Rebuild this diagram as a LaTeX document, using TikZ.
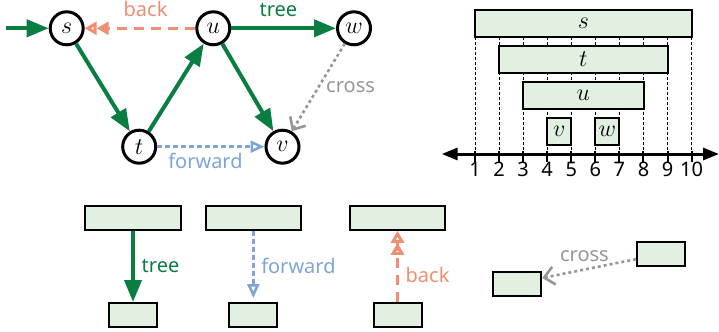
\documentclass[tikz,border=0pt]{standalone}
\usepackage{fontspec}
\setmainfont{Noto Sans}
\usetikzlibrary{arrows.meta, positioning}

\definecolor{treegreen}{RGB}{10,125,65}
\definecolor{backred}{RGB}{238,142,115}
\definecolor{forwardblue}{RGB}{125,165,215}
\definecolor{crossgray}{RGB}{150,150,150}
\definecolor{boxgreen}{RGB}{225,240,224}

\begin{document}
\begin{tikzpicture}[
    x=0.5pt, y=-0.5pt,
    node distance=35.6pt,
    vertex/.style={draw, circle, line width=1.5pt, minimum size=16.5pt, inner sep=0pt, font=\fontsize{12}{14}\selectfont},
    interval/.style={draw, rectangle, line width=1pt, fill=boxgreen, minimum height=13.3pt, inner sep=0pt, font=\fontsize{12}{14}\selectfont},
    bigbox/.style={draw, rectangle, line width=1pt, fill=boxgreen, minimum width=47.8pt, minimum height=12pt, inner sep=0pt},
    smallbox/.style={bigbox, minimum width=24pt},
    treeedge/.style={-{Triangle[length=11pt, width=8.5pt]}, line width=2pt, treegreen},
    backedge/.style={-{Triangle[open, length=6pt, width=6.5pt, sep=0pt]Triangle[open, length=6pt, width=6.5pt]}, line width=1.5pt, backred, dash pattern=on 5pt off 3.5pt},
    forwardedge/.style={-{Triangle[open, length=7pt, width=6pt]}, line width=1.3pt, forwardblue, dash pattern=on 2.5pt off 1.5pt},
    crossedge/.style={-{Straight Barb[length=5pt, width=9pt]}, line width=1.3pt, crossgray, dash pattern=on 1.5pt off 1.5pt},
    edgelabel/.style={font=\fontsize{10}{12}\selectfont},
    numlabel/.style={font=\fontsize{10}{12}\selectfont, inner sep=0pt},
    guide/.style={line width=0.4pt, dash pattern=on 1.5pt off 1pt},
    axis/.style={{Triangle[length=8pt, width=6pt]}-{Triangle[length=8pt, width=6pt]}, line width=1.5pt}
]
\useasboundingbox (0,0) rectangle (719,332);

% Graph
\node[vertex] (s) at (66.7,28.3) {$s$};
\node[vertex] (u) at (213.3,28.3) {$u$};
\node[vertex] (w) at (354,28.3) {$w$};
\node[vertex] (t) at (139.2,146.7) {$t$};
\node[vertex] (v) at (282.5,146.7) {$v$};
\coordinate (start) at (6,28.3);

\draw[treeedge] (start) -- (s);
\foreach \i/\j in {s/t, t/u, u/v}
    \draw[treeedge] (\i) -- (\j);
\draw[treeedge] (u) -- node[edgelabel, above=1.5pt, pos=0.45, text=treegreen] (treelab) {tree} (w);
\draw[backedge] (u) -- node[edgelabel, above=1.5pt, pos=0.45, text=backred] (backlab) {back} (s);
\draw[forwardedge] (t) -- node[edgelabel, below=-0.5pt, pos=0.45, text=forwardblue] (forwardlab) {forward} (v);
\draw[crossedge] (w) -- node[edgelabel, right, text=crossgray] (crosslab) {cross} (v);

% Intervals
\foreach \i in {1,...,10} {
    \coordinate (tick\i) at ({475+(\i-1)*24.07},154);
    \draw[guide] ({475+(\i-1)*24.07},36.7) -- (tick\i);
    \draw[line width=1pt] ([yshift=1.7pt]tick\i) -- ([yshift=-3.9pt]tick\i);
    \node[numlabel] (num\i) at ({475+(\i-1)*24.07},169.7) {\i};
}
\coordinate (axisl) at (441.7,154);
\coordinate (axisr) at (719,154);
\draw[axis] (axisl) -- (axisr);

\node[interval, minimum width=108.3pt] (bars) at (583.3,23.3) {$s$};
\node[interval, minimum width=84.2pt] (bart) at (583.3,59.3) {$t$};
\node[interval, minimum width=60.2pt] (baru) at (583.3,95.3) {$u$};
\node[interval, minimum width=12.04pt] (barv) at (559.2,131.3) {$v$};
\node[interval, minimum width=12.04pt] (barw) at (607.4,131.3) {$w$};

% Edge types
\node[bigbox] (treetop) at (133,217.8) {};
\node[smallbox, below=of treetop] (treebot) {};
\node[bigbox] (forwardtop) at (253.3,217.8) {};
\node[smallbox, below=of forwardtop] (forwardbot) {};
\node[bigbox] (backtop) at (397.5,217.8) {};
\node[smallbox, below=of backtop] (backbot) {};
\node[smallbox] (crossright) at (661,254.2) {};
\node[smallbox] (crossleft) at (517.2,284) {};

\draw[treeedge] (treetop) -- node[edgelabel, right, text=treegreen] (treelab2) {tree} (treebot);
\draw[forwardedge, shorten >=2pt] (forwardtop) -- node[edgelabel, right, text=forwardblue] (forwardlab2) {forward} (forwardbot);
\draw[backedge] (backbot) -- node[edgelabel, right, pos=0.38, text=backred] (backlab2) {back} (backtop);
\draw[crossedge] ([yshift=-2.5pt]crossright.west) -- node[edgelabel, above, pos=0.55, text=crossgray] (crosslab2) {cross} ([yshift=3pt]crossleft.east);

\end{tikzpicture}
\end{document}
